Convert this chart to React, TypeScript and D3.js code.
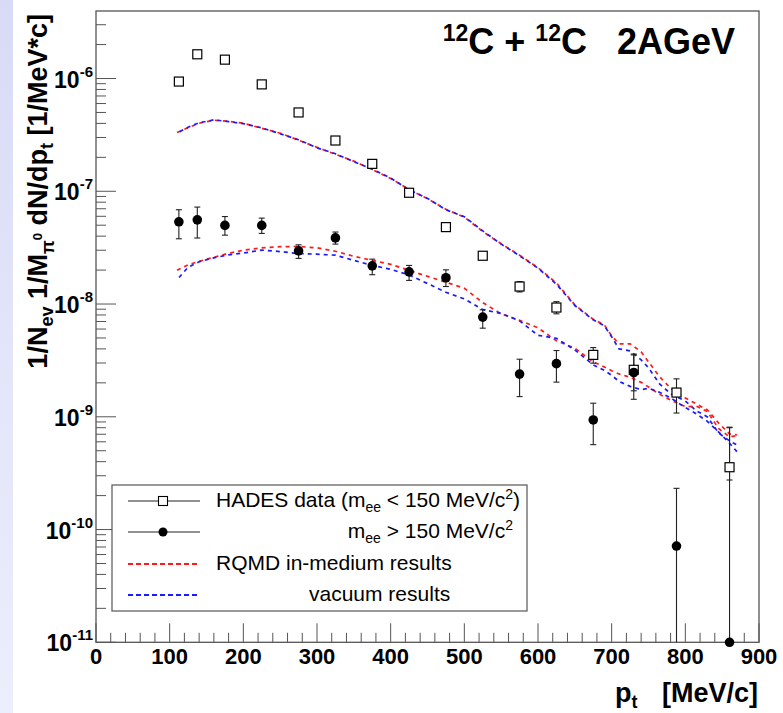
import React from 'react';
import * as d3 from 'd3';

// ---------- data ----------
const ptData = [112.5, 137.5, 175, 225, 275, 325, 375, 425, 475, 525, 575, 625, 675, 730, 788, 860];
const hadesLow = [9.4e-7, 1.64e-6, 1.47e-6, 8.87e-7, 5.0e-7, 2.82e-7, 1.75e-7, 9.7e-8, 4.81e-8, 2.68e-8, 1.43e-8, 9.31e-9, 3.54e-9, 2.61e-9, 1.64e-9, 3.57e-10];
const hadesLowHi = [null, null, null, null, null, null, null, null, null, null, 1.58e-8, 1.05e-8, 4.11e-9, 3.6e-9, 2.17e-9, 8.09e-10];
const hadesLowLo = [null, null, null, null, null, null, null, null, null, null, 1.28e-8, 8.19e-9, 2.99e-9, 1.7e-9, 1.08e-9, 2.75e-10];
const hadesHigh = [5.36e-8, 5.58e-8, 4.98e-8, 4.98e-8, 2.96e-8, 3.86e-8, 2.18e-8, 1.93e-8, 1.71e-8, 7.66e-9, 2.39e-9, 2.96e-9, 9.37e-10, 2.47e-9, 7.14e-11, 1.0e-11];
const hadesHighHi = [6.86e-8, 7.24e-8, 5.97e-8, 5.78e-8, 3.35e-8, 4.35e-8, 2.5e-8, 2.2e-8, 2.01e-8, 8.89e-9, 3.24e-9, 3.87e-9, 1.32e-9, 3.54e-9, 2.32e-10, 8.0e-10];
const hadesHighLo = [3.79e-8, 3.85e-8, 4.08e-8, 4.23e-8, 2.54e-8, 3.4e-8, 1.82e-8, 1.62e-8, 1.43e-8, 6.11e-9, 1.51e-9, 2.03e-9, 5.66e-10, 1.43e-9, 1e-11, 1e-11];

const ptModel = [110, 125, 140, 160, 180, 200, 225, 250, 275, 300, 325, 350, 375, 400, 425, 450, 475, 500, 525, 550, 575, 600, 625, 650, 675, 690, 700, 710, 725, 740, 750, 765, 780, 800, 815, 830, 845, 860, 870];
const rqmdMediumLow = [3.32e-7, 3.66e-7, 4.01e-7, 4.27e-7, 4.18e-7, 4.01e-7, 3.62e-7, 3.27e-7, 2.84e-7, 2.45e-7, 2.13e-7, 1.85e-7, 1.56e-7, 1.3e-7, 1.04e-7, 8.58e-8, 6.92e-8, 5.9e-8, 4.4e-8, 3.42e-8, 2.71e-8, 2.1e-8, 1.54e-8, 9.84e-9, 7.31e-9, 6.54e-9, 5.22e-9, 4.44e-9, 4.44e-9, 3.77e-9, 3.07e-9, 2.27e-9, 1.79e-9, 1.47e-9, 1.3e-9, 1.15e-9, 8.83e-10, 7.05e-10, 6.91e-10];
const rqmdVacuumLow = [3.28e-7, 3.7e-7, 4.05e-7, 4.3e-7, 4.15e-7, 3.98e-7, 3.65e-7, 3.24e-7, 2.86e-7, 2.43e-7, 2.15e-7, 1.83e-7, 1.57e-7, 1.31e-7, 1.03e-7, 8.65e-8, 6.85e-8, 5.95e-8, 4.45e-8, 3.4e-8, 2.68e-8, 2.08e-8, 1.5e-8, 9.7e-9, 7.24e-9, 6.41e-9, 5.12e-9, 4.0e-9, 3.84e-9, 3.2e-9, 2.72e-9, 1.96e-9, 1.6e-9, 1.38e-9, 1.13e-9, 9.98e-10, 7.2e-10, 6.11e-10, 5.63e-10];
const rqmdMediumHigh = [1.99e-8, 2.23e-8, 2.39e-8, 2.6e-8, 2.82e-8, 3.0e-8, 3.15e-8, 3.23e-8, 3.24e-8, 3.15e-8, 2.94e-8, 2.65e-8, 2.44e-8, 2.25e-8, 1.99e-8, 1.76e-8, 1.56e-8, 1.38e-8, 1.03e-8, 8.18e-9, 7.17e-9, 6.15e-9, 4.72e-9, 4.05e-9, 3.07e-9, 2.77e-9, 2.56e-9, 2.4e-9, 2.24e-9, 2.02e-9, 1.84e-9, 1.58e-9, 1.41e-9, 1.23e-9, 1.24e-9, 1.11e-9, 7.89e-10, 6.63e-10, 6.8e-10];
const rqmdVacuumHigh = [1.64e-8, 2.12e-8, 2.37e-8, 2.57e-8, 2.73e-8, 2.83e-8, 3.01e-8, 2.92e-8, 2.8e-8, 2.77e-8, 2.71e-8, 2.44e-8, 2.2e-8, 2.03e-8, 1.81e-8, 1.52e-8, 1.27e-8, 1.11e-8, 8.92e-9, 8.25e-9, 7.09e-9, 5.28e-9, 4.96e-9, 3.92e-9, 2.89e-9, 2.58e-9, 2.33e-9, 2.06e-9, 1.86e-9, 1.74e-9, 1.79e-9, 1.65e-9, 1.47e-9, 1.21e-9, 1.06e-9, 9.1e-10, 7.35e-10, 5.83e-10, 4.91e-10];

const xTickLabels = ['0', '100', '200', '300', '400', '500', '600', '700', '800', '900'];
const yDecades = [-11, -10, -9, -8, -7, -6];

// ---------- layout ----------
const W = 783;
const H = 713;
const L = 96, T = 11, R = 759, B = 642.3;
const FONT = "'Liberation Sans', Arial, Helvetica, sans-serif";

const x = d3.scaleLinear().domain([0, 900]).range([L, R]);
const y = d3.scaleLog().domain([1e-11, 3.97e-6]).range([B, T]);

const RED = '#ff1a1a';
const BLUE = '#1a1aff';
const AXIS = '#555';

function curvePath(vals: number[]) {
  const line = d3.line<number>().x((_, i) => x(ptModel[i])).y((v) => y(v));
  return line(vals) || '';
}

export default function App() {
  const xTicks = d3.range(0, 901, 20);
  const yMinor: number[] = [];
  for (let e = -11; e <= -6; e++) {
    for (let k = 2; k <= 9; k++) {
      const v = k * Math.pow(10, e);
      if (v <= 3.97e-6) yMinor.push(v);
    }
  }
  const cap = 3;
  return (
    <svg width={W} height={H} style={{ position: 'absolute', left: 0, top: 0, background: '#fff' }} fontFamily={FONT}>
      <defs>
        <linearGradient id="strip" x1="0" y1="0" x2="0" y2="1">
          <stop offset="0" stopColor="#d9dbf6" />
          <stop offset="1" stopColor="#eceefc" />
        </linearGradient>
        <clipPath id="plotClip">
          <rect x={L} y={T} width={R - L} height={B - T} />
        </clipPath>
      </defs>
      <rect x={0} y={0} width={W} height={H} fill="#fff" />
      <rect x={0} y={0} width={13} height={H} fill="url(#strip)" />

      {/* frame */}
      <rect x={L} y={T} width={R - L} height={B - T} fill="#fff" stroke={AXIS} strokeWidth={1.3} />

      {/* x ticks */}
      {xTicks.map((v) => (
        <line key={'xt' + v} x1={x(v)} x2={x(v)} y1={B} y2={B - (v % 100 === 0 ? 19 : 9.5)} stroke={AXIS} strokeWidth={1} />
      ))}
      {/* y ticks */}
      {yDecades.map((e) => (
        <line key={'ytM' + e} x1={L} x2={L + 20} y1={y(Math.pow(10, e))} y2={y(Math.pow(10, e))} stroke={AXIS} strokeWidth={1} />
      ))}
      {yMinor.map((v, i) => (
        <line key={'ytm' + i} x1={L} x2={L + 10} y1={y(v)} y2={y(v)} stroke={AXIS} strokeWidth={1} />
      ))}

      {/* x tick labels */}
      {xTickLabels.map((s, i) => (
        <text key={'xl' + s} x={x(i * 100)} y={664} textAnchor="middle" fontSize={22} fontWeight="bold" fill="#000">{s}</text>
      ))}
      {/* y tick labels */}
      {yDecades.map((e) => (
        <text key={'yl' + e} x={93} y={y(Math.pow(10, e)) + 9} textAnchor="end" fontWeight="bold" fill="#000">
          <tspan fontSize={23}>10</tspan>
          <tspan fontSize={15} dy={-11}>{String(e)}</tspan>
        </text>
      ))}

      {/* model curves */}
      <g clipPath="url(#plotClip)" fill="none" strokeWidth={1.7}>
        <path d={curvePath(rqmdMediumLow)} stroke={RED} strokeDasharray="4,4" />
        <path d={curvePath(rqmdVacuumLow)} stroke={BLUE} strokeDasharray="4,4" strokeDashoffset={5} />
        <path d={curvePath(rqmdMediumHigh)} stroke={RED} strokeDasharray="4,4" />
        <path d={curvePath(rqmdVacuumHigh)} stroke={BLUE} strokeDasharray="4,4" strokeDashoffset={5} />
      </g>

      {/* error bars: mee > 150 */}
      {ptData.map((p, i) => {
        const cx = x(p);
        const yh = y(hadesHighHi[i]);
        const yl = y(Math.max(hadesHighLo[i], 1e-11));
        return (
          <g key={'eb' + i} stroke="#222" strokeWidth={1.1}>
            <line x1={cx} x2={cx} y1={yh} y2={yl} />
            <line x1={cx - cap} x2={cx + cap} y1={yh} y2={yh} />
            {hadesHighLo[i] > 1e-11 && <line x1={cx - cap} x2={cx + cap} y1={yl} y2={yl} />}
          </g>
        );
      })}
      {/* error bars: mee < 150 */}
      {ptData.map((p, i) => {
        const hi = hadesLowHi[i];
        const lo = hadesLowLo[i];
        if (hi == null || lo == null) return null;
        const cx = x(p);
        return (
          <g key={'ebl' + i} stroke="#222" strokeWidth={1.1}>
            <line x1={cx} x2={cx} y1={y(hi)} y2={y(lo)} />
            <line x1={cx - cap} x2={cx + cap} y1={y(hi)} y2={y(hi)} />
            <line x1={cx - cap} x2={cx + cap} y1={y(lo)} y2={y(lo)} />
          </g>
        );
      })}
      {/* markers */}
      {ptData.map((p, i) => (
        <rect key={'sq' + i} x={x(p) - 4.5} y={y(hadesLow[i]) - 4.5} width={9} height={9} fill="#fff" stroke="#000" strokeWidth={1.2} />
      ))}
      {ptData.map((p, i) => (
        <circle key={'c' + i} cx={x(p)} cy={y(hadesHigh[i])} r={4.8} fill="#000" />
      ))}

      {/* legend */}
      <rect x={112} y={485} width={415} height={126} fill="#fff" stroke={AXIS} strokeWidth={1.2} />
      <line x1={128} x2={200} y1={501} y2={501} stroke="#222" strokeWidth={1} />
      <rect x={158.5} y={496.5} width={9} height={9} fill="#fff" stroke="#000" strokeWidth={1.1} />
      <line x1={128} x2={200} y1={532} y2={532} stroke="#222" strokeWidth={1} />
      <circle cx={163} cy={532} r={4.5} fill="#000" />
      <line x1={128} x2={200} y1={564} y2={564} stroke={RED} strokeWidth={1.8} strokeDasharray="5,3" />
      <line x1={128} x2={200} y1={595} y2={595} stroke={BLUE} strokeWidth={1.8} strokeDasharray="5,3" />
      <g fontSize={21} fill="#000">
        <text x={216} y={507}>
          HADES data (m<tspan fontSize={14} dy={5}>ee</tspan><tspan dy={-5}> &lt; 150 MeV/c</tspan><tspan fontSize={14} dy={-8}>2</tspan><tspan dy={8}>)</tspan>
        </text>
        <text x={513} y={538} textAnchor="end">
          m<tspan fontSize={14} dy={5}>ee</tspan><tspan dy={-5}> &gt; 150 MeV/c</tspan><tspan fontSize={14} dy={-8}>2</tspan>
        </text>
        <text x={216} y={570}>RQMD in-medium results</text>
        <text x={309} y={601}>vacuum results</text>
      </g>

      {/* title */}
      <text x={735} y={54} textAnchor="end" fontWeight="bold" fontSize={36} fill="#000" style={{ whiteSpace: 'pre' }}>
        <tspan fontSize={23} dy={-13}>12</tspan><tspan dy={13}>C + </tspan><tspan fontSize={23} dy={-13}>12</tspan><tspan dy={13}>{'C   2AGeV'}</tspan>
      </text>

      {/* x axis title */}
      <text x={615} y={702} fontWeight="bold" fontSize={27} fill="#000">
        p<tspan fontSize={18} dy={6}>t</tspan>
      </text>
      <text x={758} y={702} textAnchor="end" fontWeight="bold" fontSize={27} fill="#000">[MeV/c]</text>

      {/* y axis title */}
      <text transform="translate(47,14) rotate(-90)" textAnchor="end" fontWeight="bold" fontSize={27} fill="#000">
        1/N<tspan fontSize={18} dy={6}>ev</tspan><tspan dy={-6}> 1/M</tspan><tspan fontSize={18} dy={7}>π</tspan><tspan fontSize={13} dy={-12}>0</tspan><tspan dy={5}> dN/dp</tspan><tspan fontSize={18} dy={6}>t</tspan><tspan dy={-6}> [1/MeV*c]</tspan>
      </text>
    </svg>
  );
}
